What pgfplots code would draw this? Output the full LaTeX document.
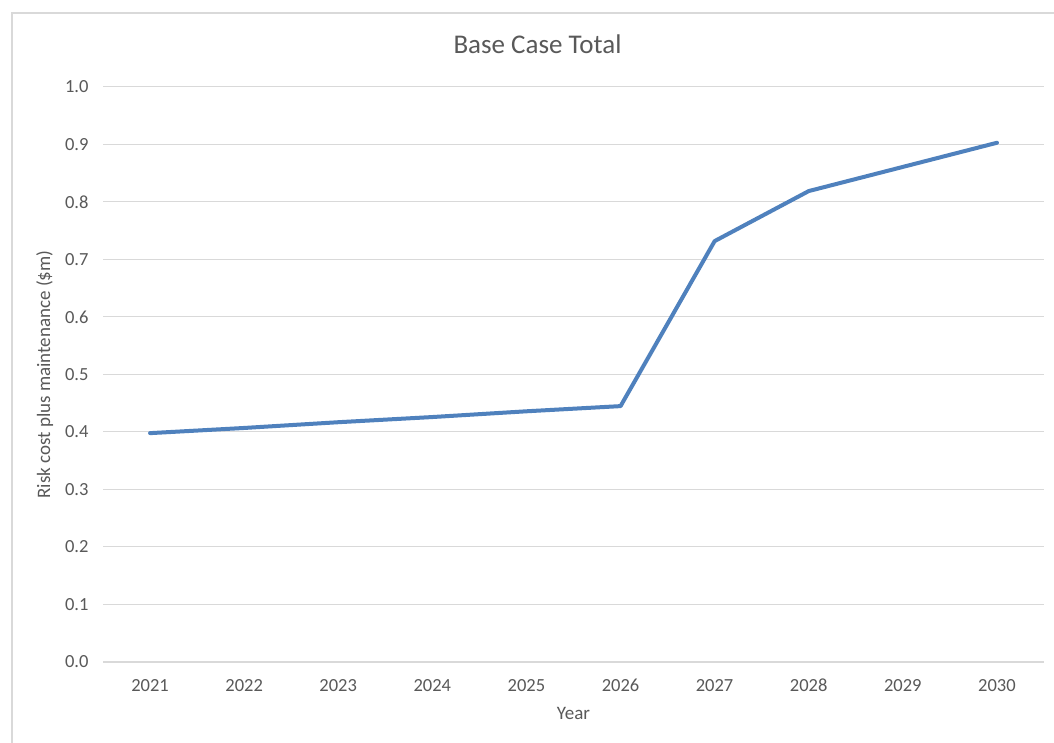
\documentclass[border=0pt]{standalone}
\usepackage{pgfplots}
\pgfplotsset{compat=1.18}
\usepackage{fontspec}
\setmainfont{Carlito}
\definecolor{gridgray}{RGB}{217,217,217}
\definecolor{textgray}{RGB}{89,89,89}
\definecolor{lineblue}{RGB}{79,129,189}
\begin{document}
\begin{tikzpicture}[x=1bp,y=1bp]
  % canvas and chart frame
  \useasboundingbox (0,0) rectangle (1054,743);
  \fill[white] (0,0) rectangle (1054,743);
  \draw[gridgray, line width=1.2bp] (12,-5) -- (12,730) -- (1060,730);
  \begin{axis}[
    at={(103bp,81bp)}, anchor=south west,
    scale only axis, width=941bp, height=575bp,
    xmin=2020.5, xmax=2030.5, ymin=0, ymax=1,
    xtick={2021,...,2030},
    ytick={0,0.1,...,1.0},
    yticklabels={0.0,0.1,0.2,0.3,0.4,0.5,0.6,0.7,0.8,0.9,1.0},
    xticklabel style={/pgf/number format/1000 sep={}},
    /pgf/number format/assume math mode=true,
    axis line style={draw=none},
    major tick length=0pt,
    ymajorgrids, grid style={gridgray, line width=1bp},
    extra y ticks={0}, extra y tick labels={},
    extra y tick style={grid style={gridgray, line width=1.2bp}},
    tick label style={font=\fontsize{18.5bp}{22bp}\selectfont, text=textgray},
    xticklabel style={yshift=-13bp, text height=13bp, text depth=0bp},
    yticklabel style={xshift=-11bp},
    title={Base Case Total},
    title style={font=\fontsize{27bp}{31bp}\selectfont, text=textgray, yshift=24bp, xshift=-36bp},
    xlabel={Year}, ylabel={Risk cost plus maintenance (\$m)},
    label style={font=\fontsize{19bp}{22bp}\selectfont, text=textgray},
    xlabel style={yshift=-9bp},
    ylabel style={yshift=5bp},
  ]
    \addplot[lineblue, line width=4bp, line join=round, line cap=round] coordinates {
      (2021,0.398) (2022,0.407) (2023,0.417) (2024,0.426) (2025,0.436)
      (2026,0.445) (2027,0.732) (2028,0.819) (2029,0.861) (2030,0.903)
    };
  \end{axis}
\end{tikzpicture}
\end{document}
